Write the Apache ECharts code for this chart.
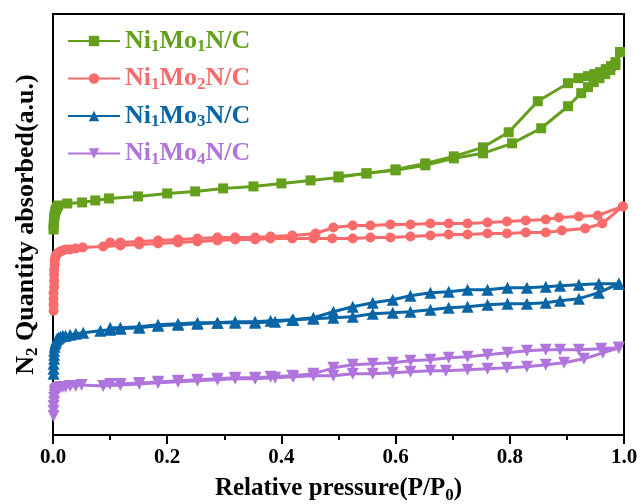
<!DOCTYPE html>
<html>
<head>
<meta charset="utf-8">
<script src="https://cdn.jsdelivr.net/npm/echarts@6/dist/echarts.min.js"></script>
<style>
  html, body { margin: 0; padding: 0; background: #fff; }
  #chart { width: 643px; height: 504px; }
</style>
</head>
<body>
<div id="chart"></div>
<script>
// legend names (digits become subscripts)
const names = ["Ni1Mo1N/C", "Ni1Mo2N/C", "Ni1Mo3N/C", "Ni1Mo4N/C"];
const colors = ["#64A01C", "#F96B6B", "#0865A6", "#B074DD"];
const symbols = ["rect", "circle", "triangle", "triangle"];
const xTicks = [0, 0.2, 0.4, 0.6, 0.8, 1.0];

// [P/P0, quantity (a.u.)] -- adsorption and desorption branches
const mo1Ads = [[0.001,205],[0.001,209],[0.002,213],[0.002,217],[0.003,220],[0.004,223],[0.005,225],[0.007,227],[0.009,229],[0.025,231],[0.051,232],[0.074,234],[0.098,236],[0.149,238],[0.2,241],[0.249,243],[0.298,246],[0.351,248],[0.4,251],[0.451,254],[0.5,257],[0.549,261],[0.6,264],[0.652,269],[0.702,276],[0.753,281],[0.804,291],[0.855,306],[0.902,328],[0.925,341],[0.937,347],[0.947,352],[0.957,356],[0.967,360],[0.976,364],[0.985,369],[0.993,382]];
const mo1Des = [[0.993,382],[0.985,372],[0.977,368],[0.968,365],[0.958,362],[0.948,360],[0.937,358],[0.92,356],[0.902,351],[0.849,333],[0.798,302],[0.753,287],[0.702,278],[0.652,271],[0.6,265],[0.549,261],[0.5,258]];

const mo2Ads = [[0.001,124],[0.001,130],[0.001,136],[0.001,142],[0.002,148],[0.002,154],[0.002,160],[0.002,165],[0.003,170],[0.003,174],[0.004,177],[0.005,179],[0.006,180],[0.008,181],[0.01,182],[0.013,183],[0.017,184],[0.022,185],[0.03,185],[0.04,186],[0.052,187],[0.088,188],[0.118,189],[0.151,190],[0.184,191],[0.219,192],[0.253,193],[0.288,194],[0.319,195],[0.354,195],[0.381,196],[0.419,196],[0.456,196],[0.489,196],[0.525,196],[0.556,197],[0.591,197],[0.626,198],[0.661,199],[0.693,200],[0.726,200],[0.761,201],[0.795,201],[0.828,202],[0.863,202],[0.891,204],[0.932,206],[0.962,211],[0.998,228]];
const mo2Des = [[0.998,228],[0.954,219],[0.921,218],[0.886,217],[0.863,215],[0.828,214],[0.795,213],[0.761,212],[0.726,211],[0.693,211],[0.661,211],[0.626,210],[0.591,210],[0.556,209],[0.525,209],[0.491,207],[0.46,201],[0.419,199],[0.381,198],[0.354,197],[0.319,197],[0.288,197],[0.253,196],[0.219,195],[0.184,194],[0.151,193],[0.118,192],[0.1,192]];

const mo3Ads = [[0.001,61],[0.001,66],[0.001,71],[0.002,76],[0.002,80],[0.002,84],[0.003,88],[0.004,91],[0.005,93],[0.006,95],[0.008,96],[0.01,97],[0.013,98],[0.017,99],[0.022,99],[0.03,100],[0.04,101],[0.053,102],[0.083,104],[0.1,105],[0.118,106],[0.151,107],[0.184,109],[0.219,110],[0.253,111],[0.288,112],[0.319,112],[0.354,112],[0.389,113],[0.421,115],[0.456,116],[0.491,117],[0.525,118],[0.56,121],[0.595,122],[0.626,123],[0.661,125],[0.693,127],[0.726,128],[0.761,130],[0.796,131],[0.83,131],[0.863,132],[0.888,134],[0.921,136],[0.956,142],[0.991,151]];
const mo3Des = [[0.991,151],[0.956,151],[0.921,150],[0.888,149],[0.863,148],[0.83,147],[0.796,147],[0.761,145],[0.726,145],[0.693,143],[0.661,142],[0.626,139],[0.595,135],[0.56,132],[0.525,128],[0.491,123],[0.456,117],[0.419,115],[0.381,114],[0.354,113],[0.319,113],[0.288,112],[0.253,112],[0.219,111],[0.184,110],[0.151,108],[0.118,107],[0.1,107]];

const mo4Ads = [[0.001,19],[0.001,24],[0.001,29],[0.002,33],[0.002,37],[0.003,40],[0.003,43],[0.004,45],[0.006,46],[0.008,47],[0.01,47],[0.013,48],[0.017,48],[0.022,48],[0.03,49],[0.04,49],[0.05,50],[0.088,49],[0.118,50],[0.151,51],[0.184,52],[0.219,53],[0.253,54],[0.288,55],[0.319,56],[0.354,56],[0.389,57],[0.421,58],[0.456,59],[0.491,59],[0.525,61],[0.56,61],[0.595,62],[0.626,63],[0.661,64],[0.688,64],[0.726,65],[0.761,66],[0.795,67],[0.83,68],[0.863,70],[0.895,72],[0.93,76],[0.963,82],[0.991,87]];
const mo4Des = [[0.991,87],[0.96,86],[0.921,85],[0.888,85],[0.863,85],[0.83,84],[0.796,82],[0.761,80],[0.726,78],[0.693,77],[0.661,75],[0.626,74],[0.595,72],[0.56,71],[0.525,70],[0.491,67],[0.456,61],[0.419,59],[0.381,58],[0.354,57],[0.319,57],[0.288,56],[0.253,55],[0.219,54],[0.184,53],[0.151,52],[0.118,51],[0.1,51]];

const branches = [[mo1Ads, mo1Des], [mo2Ads, mo2Des], [mo3Ads, mo3Des], [mo4Ads, mo4Des]];

const FONT = "Liberation Serif";
const richText = (size, subSize, pad) => ({
  n: { fontFamily: FONT, fontWeight: "bold", fontSize: size },
  s: { fontFamily: FONT, fontWeight: "bold", fontSize: subSize, padding: [pad, 0, 0, 0] }
});
// "Ni1Mo1N/C" -> "{n|Ni}{s|1}{n|Mo}{s|1}{n|N/C}"
const withSubs = (s) => "{n|" + s.replace(/(\d)/g, "}{s|$1}{n|") + "}";

let series = [];
branches.forEach((pair, i) => {
  pair.forEach((d) => {
    series.push({
      name: names[i],
      type: "line",
      data: d,
      symbol: symbols[i],
      symbolRotate: i === 3 ? 180 : 0,
      symbolSize: i < 2 ? 10 : 12,
      color: colors[i],
      lineStyle: { width: 3 },
      emphasis: { disabled: true }
    });
  });
});

let mychart = echarts.init(document.getElementById("chart"));
mychart.setOption({
  animation: false,
  backgroundColor: "#fff",
  grid: {
    left: 53, right: 19, top: 14, bottom: 69,
    outerBoundsMode: "none",
    show: true, borderColor: "#000", borderWidth: 2
  },
  legend: {
    orient: "vertical",
    left: 62,
    top: 23,
    itemWidth: 52,
    itemHeight: 13,
    itemGap: 10,
    data: names.map((n, i) => ({ name: n, textStyle: { color: colors[i], rich: richText(26, 17, 12) } })),
    formatter: withSubs,
    textStyle: { rich: richText(26, 17, 12) }
  },
  xAxis: {
    type: "value",
    min: 0,
    max: 1,
    interval: 0.2,
    name: "{n|Relative pressure(P/P}{s|0}{n|)}",
    nameLocation: "middle",
    nameGap: 39,
    nameTextStyle: { color: "#000", rich: richText(25, 17, 13) },
    axisLine: { lineStyle: { color: "#000", width: 2 } },
    axisTick: { length: 9, lineStyle: { color: "#000", width: 2 } },
    minorTick: { show: true, splitNumber: 2, length: 5, lineStyle: { color: "#000", width: 2 } },
    splitLine: { show: false },
    axisLabel: {
      color: "#000", fontFamily: FONT, fontWeight: "bold", fontSize: 21, margin: 12,
      formatter: (v) => xTicks.includes(v) ? v.toFixed(1) : ""
    }
  },
  yAxis: {
    type: "value",
    min: 0,
    max: 420,
    name: "{n|N}{s|2}{n| Quantity absorbed(a.u.)}",
    nameLocation: "middle",
    nameRotate: 90,
    nameGap: 12,
    nameTextStyle: { color: "#000", rich: richText(26, 17, 13) },
    axisLine: { show: true, lineStyle: { color: "#000", width: 2 } },
    axisTick: { show: false },
    axisLabel: { show: false },
    splitLine: { show: false }
  },
  series: series
});
</script>
</body>
</html>
